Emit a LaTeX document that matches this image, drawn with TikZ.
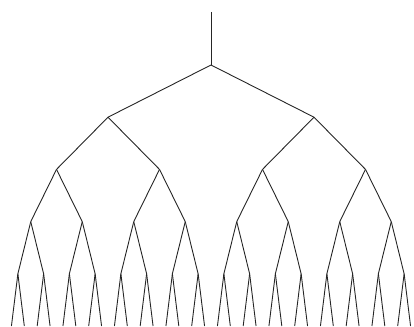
\documentclass[tikz,border=0pt]{standalone}
\usepackage{tikz}

\begin{document}
\begin{tikzpicture}[
  x=1pt,y=-1pt,
  branch/.style={draw=black!85,line width=0.9pt}
]
\useasboundingbox (0,0) rectangle (414,326);
\coordinate (top) at (211,12);
% node (n-level-index)
\foreach \l in {0,...,5}{
  \pgfmathtruncatemacro{\last}{2^\l-1}
  \foreach \i in {0,...,\last}{
    \coordinate (n-\l-\i) at ({5+412*(\i+0.5)/2^\l},{65+52.2*\l});
  }
}
\draw[branch] (top) -- (n-0-0);
\foreach \l in {1,...,5}{
  \pgfmathtruncatemacro{\last}{2^\l-1}
  \pgfmathtruncatemacro{\up}{\l-1}
  \foreach \i in {0,...,\last}{
    \pgfmathtruncatemacro{\p}{floor(\i/2)}
    \draw[branch] (n-\up-\p) -- (n-\l-\i);
  }
}
\end{tikzpicture}
\end{document}
